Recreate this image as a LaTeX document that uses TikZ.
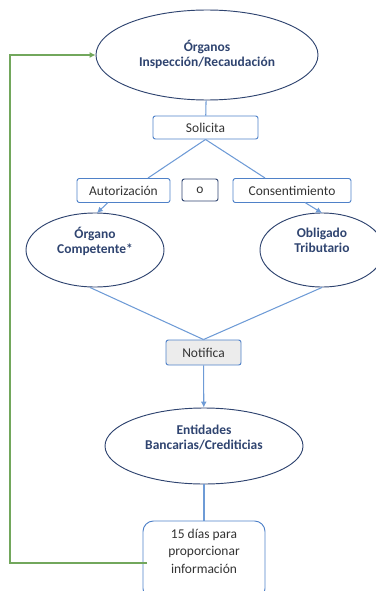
\documentclass[tikz,border=0pt]{standalone}
\usepackage{fontspec}
\setmainfont{Carlito}
\usetikzlibrary{shapes.geometric,arrows.meta}
\definecolor{navy}{HTML}{2F4470}
\definecolor{edgeblue}{HTML}{4F81C8}
\definecolor{lineblue}{HTML}{6E9BD6}
\definecolor{backgreen}{HTML}{72A75C}
\begin{document}
\begin{tikzpicture}[
		x=0.03cm, y=-0.03cm,
		ent/.style={ellipse, draw=navy, line width=0.8pt, text=navy, font=\bfseries\fontsize{11.5}{13}\selectfont, align=center, inner sep=0pt},
		box/.style={rectangle, rounded corners=2pt, draw=edgeblue, line width=0.8pt, text=black!80, font=\fontsize{11.5}{13}\selectfont, inner sep=0pt},
		link/.style={lineblue, line width=0.9pt},
		arr/.style={link, -{Latex[length=5pt,width=5pt]}}
	]
	\useasboundingbox (0,0) rectangle (376,591);

	\node[ent, minimum width=6.66cm, minimum height=2.7cm] (org) at (207,55) {\\[-4pt]Órganos\\Inspección/Recaudación};
	\node[box, minimum width=3.15cm, minimum height=0.69cm] (sol) at (205.5,127.5) {Solicita};
	\node[box, minimum width=2.79cm, minimum height=0.72cm] (aut) at (123.5,190.5) {Autorización};
	\node[box, draw=navy, minimum width=1.08cm, minimum height=0.66cm] (o) at (200,190) {o};
	\node[box, minimum width=3.54cm, minimum height=0.72cm] (con) at (292,190.5) {Consentimiento};
	\node[ent, minimum width=4.14cm, minimum height=2.22cm] (comp) at (95,250) {Órgano\\Competente*\\[3pt]};
	\node[ent, minimum width=3.72cm, minimum height=2.22cm] (obl) at (322,250) {Obligado\\Tributario\\[3pt]};
	\node[box, fill=gray!15, minimum width=2.25cm, minimum height=0.75cm] (not) at (203.5,352.5) {Notifica};
	\node[ent, minimum width=5.94cm, minimum height=2.28cm] (bank) at (204,446) {Entidades\\Bancarias/Crediticias\\[2pt]};
	\node[box, rounded corners=9pt, minimum width=3.66cm, minimum height=2.34cm] (dias) at (204,560) {};
	\node[text=black!80, font=\fontsize{11.5}{15}\selectfont, align=center] (diastxt) at (204,551) {15 días para\\proporcionar\\información};

	\draw[link] (org) -- (sol);
	\draw[link] (sol.south) -- (148,178);
	\draw[link] (sol.south) -- (265,178);
	\draw[arr] (108,202.5) -- (97,213);
	\draw[arr] (305,202.5) -- (322,213);
	\draw[link] (comp.south) ++(-5,0) -- (not.north);
	\draw[link] (obl.south) -- (not.north);
	\draw[arr] (not) -- (bank);
	\draw[link] (bank) -- (dias);

	% back to the top
	\coordinate (back) at (10,563);
	\draw[backgreen, line width=0.9pt, -{Latex[length=5pt,width=5pt]}] (147,563) -- (back) |- (org.west);
\end{tikzpicture}
\end{document}
